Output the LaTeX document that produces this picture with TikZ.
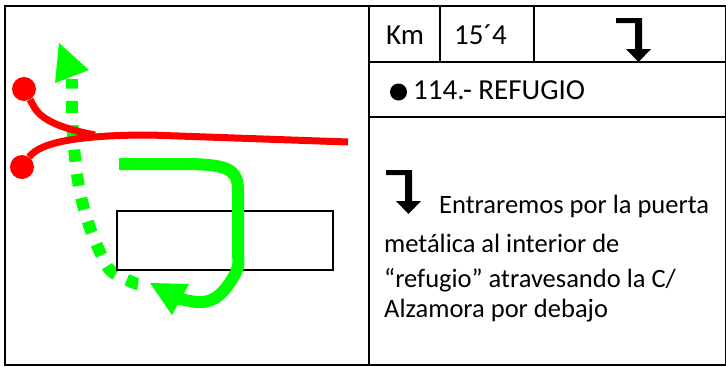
\documentclass[tikz,border=0pt]{standalone}
\usepackage{fontspec}
\setmainfont{Carlito}
\tikzset{
  frameline/.style={draw=black,line width=1.9pt},
  cellline/.style={draw=black,line width=1.5pt},
  txt/.style={anchor=base west,inner sep=0pt,font=\fontsize{26.5}{30}\selectfont},
  headtxt/.style={anchor=base west,inner sep=0pt,font=\fontsize{29}{33}\selectfont},
  redroad/.style={draw=red,line width=7pt},
  reddot/.style={circle,fill=red,minimum size=24pt,inner sep=0pt},
  greenline/.style={draw=green,line width=12pt},
  greenhead/.style={fill=green},
  building/.style={draw=black,line width=2pt},
  elbow/.pic={\fill[black] (0,0) -- (26,0) -- (26,31) -- (35,31) -- (22.5,44) -- (10,31) -- (19,31) -- (19,5) -- (0,5) -- cycle;}
}
\begin{document}
\begin{tikzpicture}[x=1pt,y=-1pt]
\useasboundingbox (0,0) rectangle (726,367);
\fill[white] (0,0) rectangle (726,367);
% green walking route
\draw[greenline,dash pattern=on 12pt off 12.4pt] plot[smooth,tension=0.6] coordinates {(138,284) (132,282) (111,271) (99,250) (90,228) (83,205) (78,181) (75,157) (73,133) (72,110) (72,79)};
\fill[greenhead] (59,43) -- (89,70) -- (55,83) -- cycle;
\node[building,minimum width=216pt,minimum height=59pt,inner sep=0pt] (edificio) at (225,240.5) {};
\coordinate (greenstart) at (119,164);
\coordinate (greenend) at (176,298);
\draw[greenline,line join=round] (greenstart) -- (190,164) .. controls (225,165) and (238,168) .. (238,190) -- (238,255) .. controls (240,268) and (236,274) .. (226,288) .. controls (210,308) and (195,302) .. (greenend);
\fill[greenhead] (150,283) -- (189,284) -- (172,315) -- cycle;
% red roads
\node[reddot] (dotA) at (24,89) {};
\node[reddot] (dotB) at (22,167) {};
\coordinate (roadend) at (348,142);
\coordinate (junction) at (95,135);
\draw[redroad] (dotA) .. controls (36,110) and (38,124) .. (junction);
\draw[redroad] (dotB) .. controls (40,142) and (80,135) .. (150,135) -- (roadend);
% table
\draw[frameline] (5,6) rectangle (726,365);
\draw[cellline] (369,6) -- (369,365);
\draw[cellline] (440,6) -- (440,62);
\draw[cellline] (534,6) -- (534,62);
\draw[cellline] (369,62) -- (726,62);
\draw[cellline] (369,117) -- (726,117);
\node[headtxt] (km) at (386,44) {Km};
\node[headtxt] (kmval) at (454,44) {15´4};
\pic at (616,18) {elbow};
\node[circle,fill=black,minimum size=17pt,inner sep=0pt] (bullet) at (398.5,92) {};
\node[headtxt] (titulo) at (413,99) {114.- REFUGIO};
\pic at (386,170) {elbow};
\node[txt] (l1) at (439,213) {Entraremos por la puerta};
\node[txt] (l2) at (384,252) {metálica al interior de};
\node[txt] (l3) at (384,287) {“refugio” atravesando la C/};
\node[txt] (l4) at (384,317) {Alzamora por debajo};
\end{tikzpicture}
\end{document}
